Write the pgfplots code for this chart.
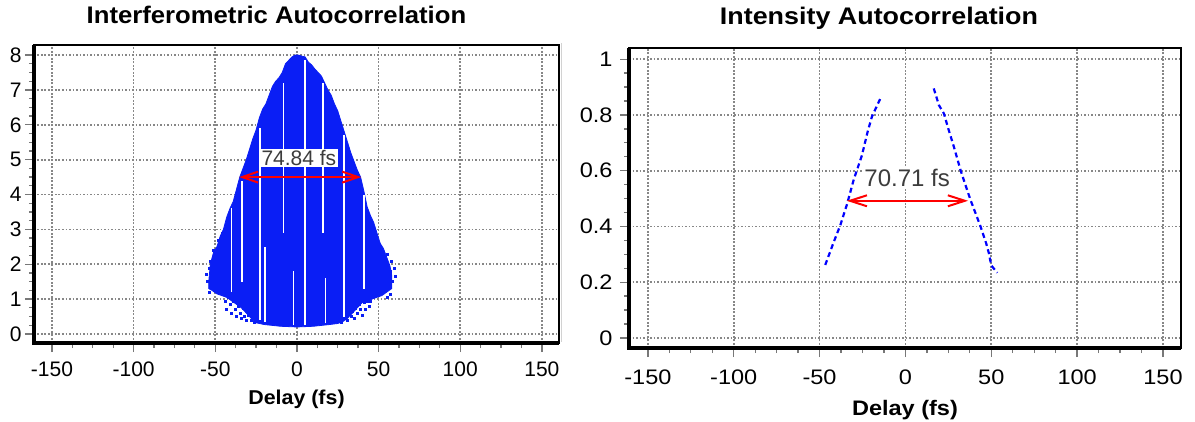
\documentclass[border=0pt]{standalone}
\usepackage{fontspec}
\setmainfont{Liberation Sans}
\newfontfamily\wideA[FakeStretch=1.07]{Liberation Sans}
\newfontfamily\wideB[FakeStretch=1.12]{Liberation Sans}
\usepackage{pgfplots}
\pgfplotsset{compat=1.18}
\usetikzlibrary{arrows.meta}
\definecolor{gridgray}{RGB}{135,135,135}
\definecolor{tickgray}{RGB}{120,120,120}
\definecolor{lbl}{RGB}{60,60,60}
\definecolor{fringe}{RGB}{10,30,245}
\pgfplotsset{
  acstyle/.style={
    scale only axis,
    anchor=south west,
    xmin=-161, xmax=160.5,
    xtick={-150,-100,-50,0,50,100,150},
    minor x tick num=3, minor y tick num=3,
    grid=major,
    major grid style={gridgray, line width=1.7pt, dash pattern=on 1.6pt off 1.9pt},
    tick align=outside, tick pos=left,
    major tick length=9pt, minor tick length=5pt,
    every tick/.style={tickgray, line width=1.3pt},
    axis line style={black, line width=1.6pt},
    after end axis/.code={
      \draw[black, line width=3.6pt, line join=miter]
        (rel axis cs:0,1) -- (rel axis cs:0,0) -- (rel axis cs:1,0);
    },
  }
}
\begin{document}
\begin{tikzpicture}
\useasboundingbox (0,0) rectangle (1195pt,421pt);
\draw[gray!35, line width=1pt] (561pt,378pt) -- (561pt,79pt);
% ---------------- left panel ----------------
\begin{axis}[acstyle,
  at={(34pt,78pt)}, width=525pt, height=298pt,
  ymin=-0.26, ymax=8.29,
  ytick={0,1,2,3,4,5,6,7,8},
  xticklabels={-150,-100,-50,0,50,100,150},
  yticklabels={0,1,2,3,4,5,6,7,8},
  xticklabel style={font=\fontsize{21pt}{21pt}\selectfont, anchor=base, yshift=-24pt},
  yticklabel style={font=\fontsize{21pt}{21pt}\selectfont},
  title={Interferometric Autocorrelation},
  title style={font=\wideA\bfseries\fontsize{24pt}{24pt}\selectfont, at={(0.5,1)}, anchor=base, xshift=-20pt, yshift=15pt},
  xlabel={Delay (fs)},
  xlabel style={font=\wideA\bfseries\fontsize{20pt}{20pt}\selectfont, at={(0.5,0)}, anchor=base, yshift=-61pt},
]
\addplot[draw=fringe, fill=fringe, line width=0.8pt] coordinates {
(-54,1.5) (-53,2.0) (-51,2.35) (-49,2.5) (-47,2.8) (-45,3.0) (-43,3.35) (-41,3.6) (-39,3.8) (-37,4.15) (-35,4.5) (-33,4.75) (-31,5.0) (-29,5.3) (-27,5.6) (-25,5.85) (-23,6.2) (-21,6.45) (-19,6.6) (-17,6.85) (-15,7.1) (-13,7.25) (-11,7.35) (-9,7.5) (-7,7.75) (-5,7.85) (-3,7.95) (-1,8.0) (1,8.0) (3,7.97) (5,7.95) (7,7.8) (9,7.72) (11,7.6) (13,7.5) (15,7.4) (17,7.2) (19,7.0) (21,6.85) (23,6.6) (25,6.4) (27,6.1) (29,5.8) (31,5.5) (33,5.2) (35,4.95) (37,4.7) (39,4.5) (41,4.1) (43,3.65) (45,3.4) (47,3.2) (49,2.9) (51,2.6) (53,2.45) (55,2.2) (57,1.95) (58,1.7)
(58,1.3) (55,1.2) (52,1.1) (49,1.05) (46,1.0) (43,0.95) (40,0.9) (37,0.75) (34,0.6) (31,0.45) (28,0.35) (25,0.3) (20,0.27) (10,0.22) (0,0.2) (-10,0.22) (-20,0.27) (-25,0.32) (-28,0.45) (-31,0.6) (-34,0.75) (-37,0.85) (-40,0.95) (-43,1.05) (-46,1.1) (-49,1.15) (-52,1.25) (-54,1.3)
} -- cycle;
\addplot[only marks, mark=square*, mark size=1pt, fringe] coordinates {
(-55.5,1.7) (-55,1.5) (-54,1.9) (-53.5,1.2) (-53,2.1) (-52,1.55) (-51.5,2.4) (-51,1.8) (-50,1.35) (-49.5,2.2) (-48.5,1.6) (-48,2.7) (-47,1.2) (-46.5,2.0) (-46,2.9)
(-44,0.95) (-43,0.7) (-42,1.05) (-41,0.85) (-40,0.6) (-39,0.95) (-38,0.7) (-37,0.5) (-36,0.8) (-35,0.6) (-34,0.45) (-33,0.75) (-32,0.5) (-31,0.4) (-30,0.55) (-28,0.4) (-27,0.5) (-26,0.35)
(24,0.4) (26,0.5) (27,0.35) (29,0.45) (30,0.6) (31,0.4) (32,0.7) (33,0.5) (34,0.65) (35,0.45) (36,0.75) (37,0.6) (38,0.85) (39,0.7) (40,0.55) (41,0.9) (42,0.7) (43,0.95) (44,0.8) (45,0.95)
(46,1.9) (47,2.5) (48,1.5) (49,2.2) (50,1.7) (51,2.4) (52,1.3) (53,2.0) (54,1.6) (55,2.3) (56,1.4) (57,1.8) (58,2.1) (58.5,1.5) (59.5,1.9) (60,1.65) (57,1.15) (55,1.05)
};
\addplot[white, line width=1.6pt, unbounded coords=jump] coordinates {
(-40,1.2) (-40,3.6) (-40,nan)
(-33.6,1.5) (-33.6,4.4) (-33.6,nan)
(-22.5,0.4) (-22.5,5.9) (-22.5,nan)
(-19.5,0.35) (-19.5,2.5) (-19.5,nan)
(-8.2,2.9) (-8.2,7.2) (-8.2,nan)
(-2,0.25) (-2,1.8) (-2,nan)
(5,0.25) (5,7.85) (5,nan)
(16,2.9) (16,7.2) (16,nan)
(17.5,0.3) (17.5,1.6) (17.5,nan)
(29,0.4) (29,5.7) (29,nan)
(41,1.3) (41,4.0)
};
\addplot[red, line width=2pt, {Straight Barb[length=16pt,width=11pt]}-{Straight Barb[length=16pt,width=11pt]}] coordinates {(-35.4,4.5) (39.4,4.5)};
\node[fill=white, inner sep=1.5pt, text=lbl, font=\fontsize{21pt}{21pt}\selectfont] at (axis cs:1.2,5.05) {74.84 fs};
\end{axis}
% ---------------- right panel ----------------
\begin{axis}[acstyle,
  at={(629pt,73pt)}, width=552pt, height=300pt,
  ymin=-0.036, ymax=1.04,
  ytick={0,0.2,0.4,0.6,0.8,1},
  xticklabels={-150,-100,-50,0,50,100,150},
  yticklabels={0,0.2,0.4,0.6,0.8,1},
  xticklabel style={font=\wideB\fontsize{21pt}{21pt}\selectfont, anchor=base, yshift=-27pt},
  yticklabel style={font=\wideB\fontsize{21pt}{21pt}\selectfont, xshift=-4pt},
  title={Intensity Autocorrelation},
  title style={font=\wideB\bfseries\fontsize{24pt}{24pt}\selectfont, at={(0.5,1)}, anchor=base, xshift=-26pt, yshift=17pt},
  xlabel={Delay (fs)},
  xlabel style={font=\wideB\bfseries\fontsize{21pt}{21pt}\selectfont, at={(0.5,0)}, anchor=base, yshift=-67pt},
]
\addplot[blue, line width=2.2pt, dash pattern=on 5pt off 3.5pt] coordinates {
(-46.7,0.262) (-42,0.34) (-37.9,0.405) (-34,0.48) (-30.2,0.566) (-25.3,0.656) (-22,0.74) (-19.5,0.794) (-14.6,0.859)
};
\addplot[blue, line width=2.2pt, dash pattern=on 5pt off 3.5pt] coordinates {
(16.5,0.895) (19.5,0.835) (22.4,0.805) (25,0.75) (28.2,0.686) (32.1,0.602) (34.0,0.566) (37.9,0.495) (43.8,0.399) (47,0.34) (48.6,0.304) (50,0.26) (53.5,0.234)
};
\addplot[red, line width=2pt, {Straight Barb[length=17pt,width=11pt]}-{Straight Barb[length=17pt,width=11pt]}] coordinates {(-34.2,0.492) (36.5,0.492)};
\node[fill=white, inner sep=1pt, text=lbl, font=\fontsize{24pt}{24pt}\selectfont] at (axis cs:1,0.573) {70.71 fs};
\end{axis}
\end{tikzpicture}
\end{document}
